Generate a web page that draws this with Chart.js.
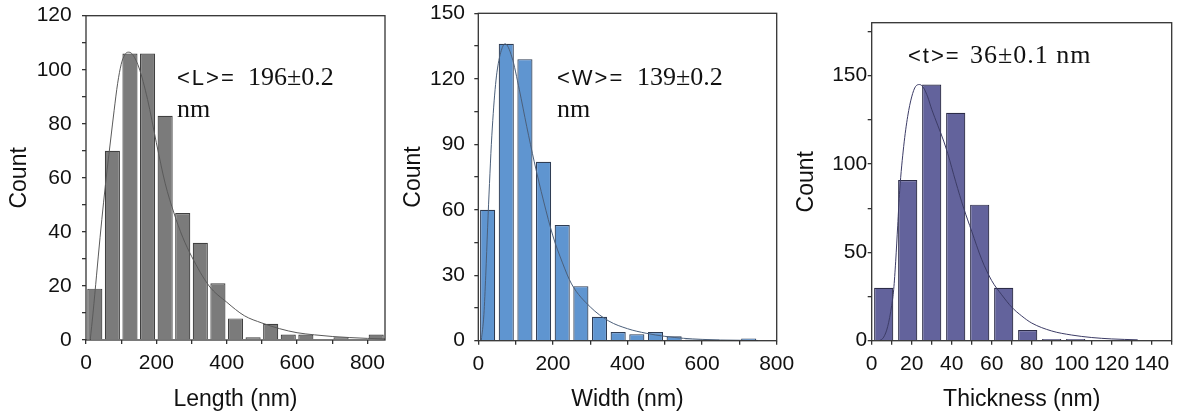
<!DOCTYPE html>
<html><head><meta charset="utf-8">
<script src="https://cdn.jsdelivr.net/npm/chart.js@4.4.1/dist/chart.umd.min.js"></script>
<style>
html,body{margin:0;padding:0;background:#fff;}
#wrap{position:relative;width:1179px;height:420px;overflow:hidden;background:#fff;}
canvas{position:absolute;top:0;}
.ann{position:absolute;white-space:nowrap;line-height:1;color:#111;}
.sans{font-family:"Liberation Sans",Arial,sans-serif;font-size:22px;letter-spacing:2px;}
.serif{font-family:"Liberation Serif","Times New Roman",serif;font-size:26px;letter-spacing:0px;}
</style></head><body>
<div id="wrap">
<canvas id="c1" width="420" height="420" style="left:0px"></canvas>
<canvas id="c2" width="417" height="420" style="left:390px"></canvas>
<canvas id="c3" width="399" height="420" style="left:780px"></canvas>
<div class="ann sans" style="left:177px;top:67.4px">&lt;L&gt;=</div>
<div class="ann serif" style="left:248px;top:64.2px">196±0.2</div>
<div class="ann serif" style="left:177px;top:96.2px">nm</div>
<div class="ann sans" style="left:557px;top:67.4px">&lt;W&gt;=</div>
<div class="ann serif" style="left:637px;top:64.2px">139±0.2</div>
<div class="ann serif" style="left:557px;top:96.2px">nm</div>
<div class="ann sans" style="left:908px;top:44.7px">&lt;t&gt;=</div>
<div class="ann serif" style="left:970px;top:41.5px;letter-spacing:1px">36±0.1 nm</div>
</div>
<script>
// ---- Length histogram ----
const lengthBinCenters = [25,75,125,175,225,275,325,375,425,475,525,575,625,675,725,775,825];
const lengthCounts     = [19,70,106,106,83,47,36,21,8,1,6,2,2,null,1,null,2];
const lengthFitX = [12,20,30,40,50,60,70,80,90,100,110,120,130,150,175,200,225,250,275,300,350,400,450,500,550,600,650,700,750,800,850];
const lengthFitY = [0,10,24,38,51,63,74,85,95,102,105.5,106.5,106,101,89,73,58,47,38,31,20,14,9,6.3,4.2,2.7,1.9,1.3,0.9,0.6,0.4];

// ---- Width histogram ----
const widthBinCenters = [25,75,125,175,225,275,325,375,425,475,525,575,625,675,725,775];
const widthCounts     = [60,136,129,82,53,25,11,4,3,4,2,0.5,0.5,null,1,null];
const widthFitX = [8,15,20,25,30,35,40,45,50,60,72,90,110,130,150,175,200,225,250,300,350,400,450,500,550,600,650,700,750];
const widthFitY = [0,12,30,52,72,90,104,115,123,132,136,130,115,98,82,64,48,36,26,15.5,9,5.5,3.4,2,1.1,0.6,0.3,0.2,0.1];

// ---- Thickness histogram ----
const thickBinCenters = [6,18,30,42,54,66,78,90,102];
const thickCounts     = [30,91,145,129,77,30,6,1,1];
const thickFitX = [4,6,8,10,11,12,13,14,16,18,20,22,24,26,28,30,33,36,38,42,46,50,55,60,65,70,75,80,90,100,110,120,133];
const thickFitY = [0,2,8,20,29,45,65,85,110,127,138,144,145,143,138,131,122,113,106,90,75,62,46,34,26,19,14,10,5.5,3.2,1.8,1,0.5];

// ---- axis tick labels ----
const lengthXTickLabels = ['0','200','400','600','800'];
const lengthYTickLabels = ['0','20','40','60','80','100','120'];
const widthXTickLabels = ['0','200','400','600','800'];
const widthYTickLabels = ['0','30','60','90','120','150'];
const thickXTickLabels = ['0','20','40','60','80','100','120','140'];
const thickYTickLabels = ['0','50','100','150'];

Chart.defaults.font.family = '"Liberation Sans", Arial, sans-serif';
Chart.defaults.color = '#111';

const framePlugin = {
  id: 'frame',
  afterDatasetsDraw(chart) {
    const {ctx, chartArea: a} = chart;
    ctx.save();
    ctx.strokeStyle = '#333';
    ctx.lineWidth = 1.3;
    ctx.strokeRect(a.left, a.top, a.right - a.left, a.bottom - a.top);
    ctx.restore();
  }
};

function onStep(v, step) { const r = v / step; return Math.abs(r - Math.round(r)) < 1e-6; }

function makeChart(id, o) {
  const tickFont = {size: 21};
  const titleFont = {size: 23};
  new Chart(document.getElementById(id), {
    type: 'bar',
    plugins: [framePlugin],
    data: {
      datasets: [
        {
          type: 'line', xAxisID: 'x', yAxisID: 'y', order: 0,
          data: o.fitX.map((x, i) => ({x: x, y: o.fitY[i]})),
          borderColor: o.lineColor, borderWidth: 1, pointRadius: 0,
          cubicInterpolationMode: 'monotone', fill: false
        },
        {
          type: 'bar', xAxisID: 'xb', yAxisID: 'y', order: 1, grouped: false,
          data: o.centers.map((x, i) => ({x: x, y: o.counts[i]})),
          backgroundColor: o.fill, borderColor: o.edge, borderWidth: 1.2,
          barPercentage: o.barPct, categoryPercentage: 1
        }
      ]
    },
    options: {
      responsive: false, animation: false, devicePixelRatio: 1,
      layout: {padding: o.padding},
      plugins: {legend: {display: false}, tooltip: {enabled: false}},
      scales: {
        xb: {
          type: 'linear', display: false, min: o.xMin, max: o.xMax, offset: false,
          grid: {offset: false},
          afterBuildTicks: s => { s.ticks = [{value: o.xMin}]; }
        },
        x: {
          type: 'linear', position: 'bottom', min: o.xMin, max: o.xMax, offset: false,
          grid: {display: true, offset: false, drawOnChartArea: false, drawTicks: true, tickLength: 4, color: '#333', lineWidth: 1.3},
          border: {display: false},
          ticks: {
            font: tickFont, padding: 7, maxRotation: 0, autoSkip: false,
            callback: v => onStep(v, o.xLabelStep) ? o.xLabels[Math.round(v / o.xLabelStep)] : ''
          },
          afterBuildTicks: s => {
            const t = [];
            for (let v = o.xMin; v <= o.xMax + 1e-9; v += o.xStep) t.push({value: v});
            s.ticks = t;
          },
          afterFit: s => { s.height = o.xHeight; s.paddingLeft = 0; s.paddingRight = 0; s.paddingTop = 0; s.paddingBottom = 0; },
          title: {display: true, text: o.xTitle, font: titleFont, color: '#111', padding: {top: 0, bottom: 6.2}}
        },
        y: {
          type: 'linear', position: 'left', min: 0, max: o.yMax,
          grid: {display: true, drawOnChartArea: false, drawTicks: true, tickLength: 4, color: '#333', lineWidth: 1.3},
          border: {display: false},
          ticks: {
            font: tickFont, padding: o.yPad, autoSkip: false,
            callback: v => onStep(v, o.yLabelStep) ? o.yLabels[Math.round(v / o.yLabelStep)] : ''
          },
          afterBuildTicks: s => {
            const t = [];
            for (let v = 0; v <= o.yMax + 1e-9; v += o.yStep) t.push({value: v});
            s.ticks = t;
          },
          afterFit: s => { s.width = o.yWidth; s.paddingLeft = 0; s.paddingRight = 0; s.paddingTop = 0; s.paddingBottom = 0; },
          title: {display: true, text: 'Count', font: titleFont, color: '#111', padding: {top: o.yTitlePad, bottom: 0}}
        }
      }
    }
  });
}

makeChart('c1', {
  centers: lengthBinCenters, counts: lengthCounts, fitX: lengthFitX, fitY: lengthFitY,
  fill: '#7b7b7b', edge: '#404040', lineColor: '#5a5a5a', barPct: 0.86,
  xMin: 0, xMax: 850, xStep: 100, xLabelStep: 200, xLabels: lengthXTickLabels,
  yMax: 120, yStep: 10, yLabelStep: 20, yLabels: lengthYTickLabels,
  padding: {left: 0, top: 15.7, right: 35, bottom: 0},
  yWidth: 86, xHeight: 80, yPad: 10.3, yTitlePad: 6.2, xTitle: 'Length (nm)'
});
makeChart('c2', {
  centers: widthBinCenters, counts: widthCounts, fitX: widthFitX, fitY: widthFitY,
  fill: '#5f95d0', edge: '#2f3d54', lineColor: '#4b5f7a', barPct: 0.81,
  xMin: 0, xMax: 800, xStep: 100, xLabelStep: 200, xLabels: widthXTickLabels,
  yMax: 150, yStep: 15, yLabelStep: 30, yLabels: widthYTickLabels,
  padding: {left: 0, top: 13.3, right: 30.3, bottom: 0},
  yWidth: 88.3, xHeight: 79.3, yPad: 9.3, yTitlePad: 9.9, xTitle: 'Width (nm)'
});
makeChart('c3', {
  centers: thickBinCenters, counts: thickCounts, fitX: thickFitX, fitY: thickFitY,
  fill: '#63639c', edge: '#2c2c48', lineColor: '#3c3c66', barPct: 0.8,
  xMin: 0, xMax: 150, xStep: 10, xLabelStep: 20, xLabels: thickXTickLabels,
  yMax: 180, yStep: 25, yLabelStep: 50, yLabels: thickYTickLabels,
  padding: {left: 0, top: 22.7, right: 7.3, bottom: 0},
  yWidth: 91.7, xHeight: 79.3, yPad: 0.5, yTitlePad: 13.2, xTitle: 'Thickness (nm)'
});
</script>
</body></html>
